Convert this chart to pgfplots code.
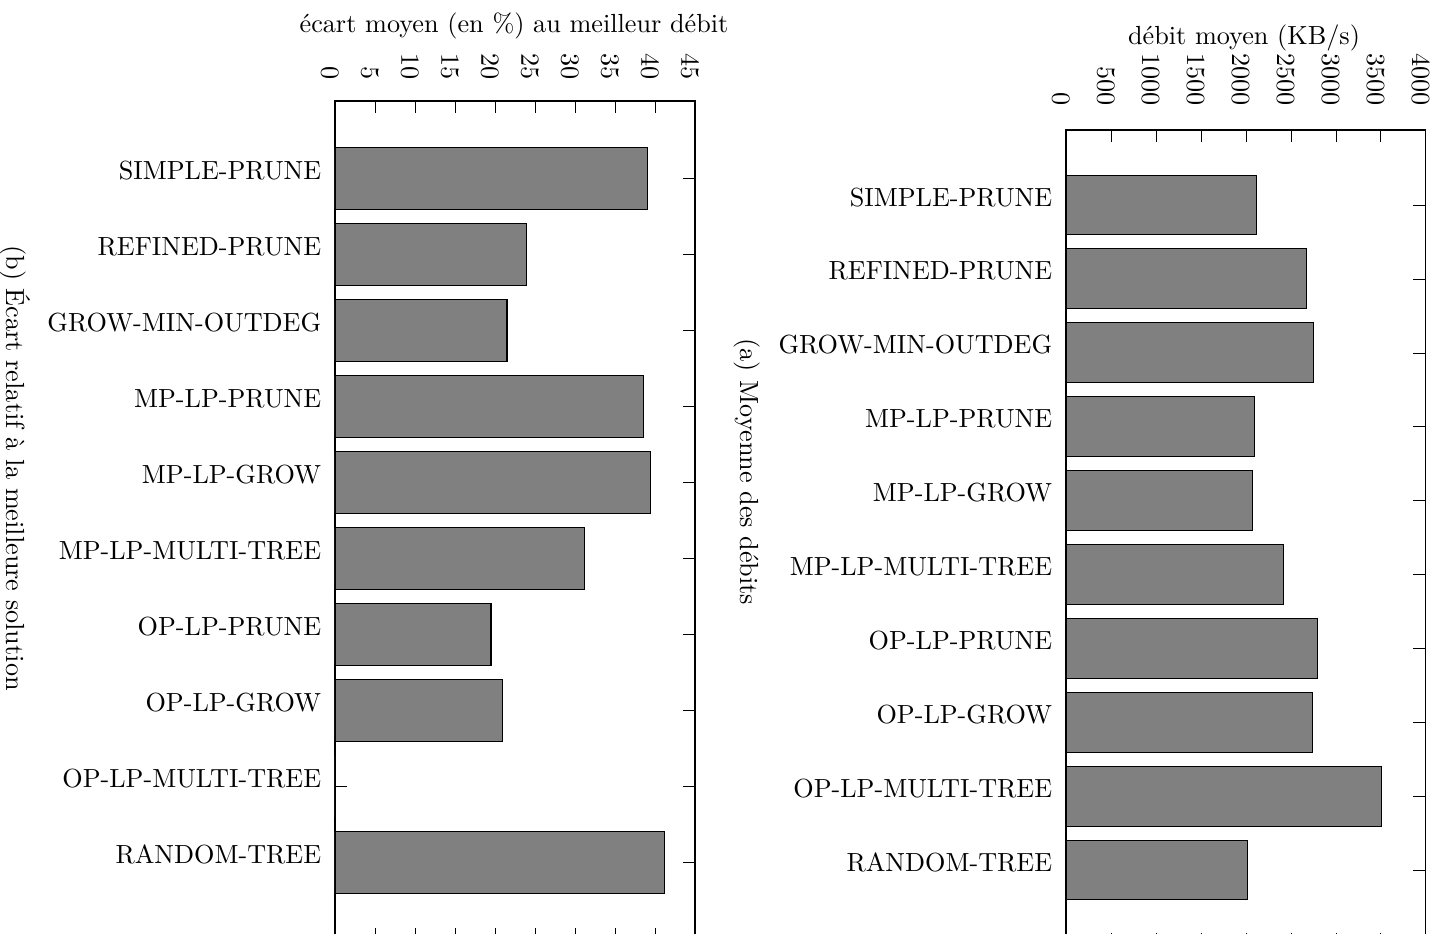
\documentclass[border=0pt]{standalone}
\usepackage{pgfplots}
\pgfplotsset{compat=1.18}
\begin{document}
\begin{tikzpicture}
\pgfplotsset{
  mybar/.style={
    scale only axis, anchor=south west,
    xbar, bar width=0.81,
    y dir=reverse,
    ytick={1,...,10},
    yticklabels={SIMPLE-PRUNE,REFINED-PRUNE,GROW-MIN-OUTDEG,MP-LP-PRUNE,MP-LP-GROW,MP-LP-MULTI-TREE,OP-LP-PRUNE,OP-LP-GROW,OP-LP-MULTI-TREE,RANDOM-TREE},
    yticklabel style={xshift=-1.75pt, yshift=3pt},
    xticklabel pos=upper,
    tick align=inside,
    major tick length=4.7pt,
    tick style={black},
    xmin=0,
    scaled x ticks=false,
    /pgf/number format/1000 sep={},
    xticklabel style={xshift=-2pt, rotate=-90, anchor=east},
  }
}
\begin{scope}
\clip (0,0) rectangle (551.53pt,356.11pt);
\begin{axis}[mybar, at={(127.86pt,-2.67pt)}, width=137.41pt, height=320.23pt,
  xmax=45, xtick={0,5,...,45}, ymin=-0.016, ymax=11.016, xticklabel shift=4.7pt]
\addplot[fill=gray, draw=black] coordinates {(39.1,1) (23.9,2) (21.5,3) (38.6,4) (39.4,5) (31.2,6) (19.5,7) (20.9,8) (0,9) (41.2,10)};
\end{axis}
\begin{axis}[mybar, at={(406.87pt,-4.58pt)}, width=137.29pt, height=311.07pt,
  xmax=4000, xtick={0,500,...,4000}, ymin=-0.015, ymax=11.015, xticklabel shift=5.6pt]
\addplot[fill=gray, draw=black] coordinates {(2115,1) (2670,2) (2752,3) (2100,4) (2070,5) (2415,6) (2796,7) (2737,8) (3511,9) (2019,10)};
\end{axis}
\end{scope}
\begin{scope}[x=0.38168pt, y=-0.38168pt, yshift=356.11pt]
\node[anchor=base, inner sep=0pt] at (514,33) {écart moyen (en \%) au meilleur débit};
\node[anchor=base, inner sep=0pt] at (1244,45) {débit moyen (KB/s)};
\node[rotate=-90] at (15,468) {(b) Écart relatif à la meilleure solution};
\node[rotate=-90] at (747,472) {(a) Moyenne des débits};
\end{scope}
\pgfresetboundingbox
\useasboundingbox (0,0) rectangle (551.53pt,356.11pt);
\end{tikzpicture}
\end{document}
